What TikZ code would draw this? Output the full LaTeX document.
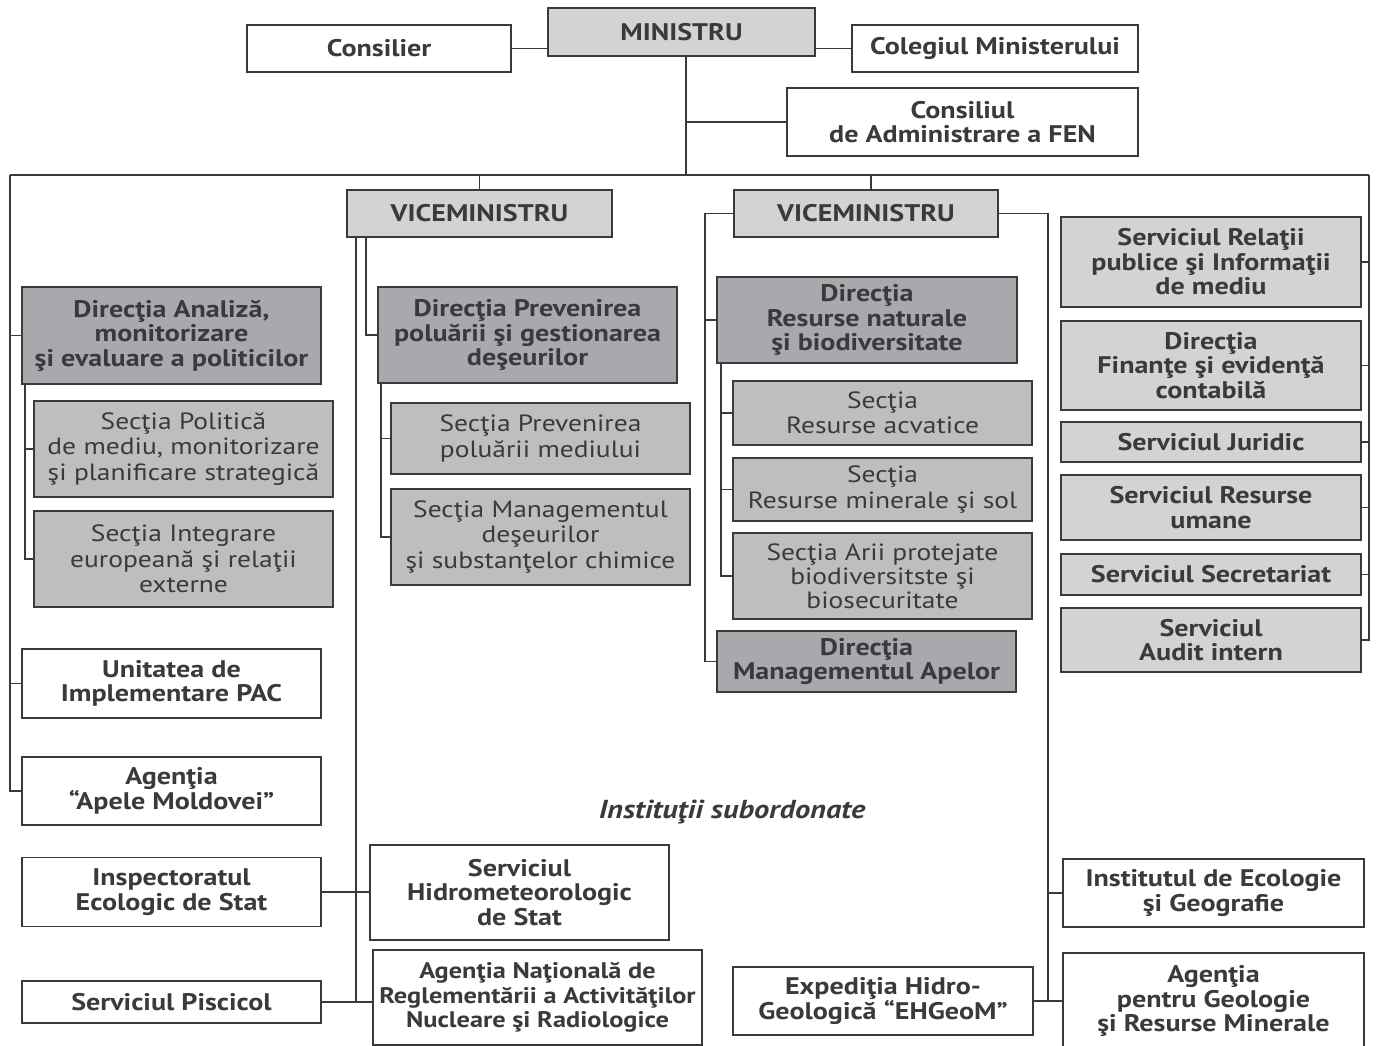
\documentclass[tikz,border=0pt]{standalone}
\usepackage{fontspec}
\setmainfont{PT Sans}[FakeStretch=1.17]
\definecolor{lgray}{HTML}{D1D3D4}
\definecolor{mgray}{HTML}{BCBEC0}
\definecolor{dgray}{HTML}{A7A9AC}
\definecolor{ink}{HTML}{3A3A3C}

\begin{document}
\begin{tikzpicture}[x=1pt,y=-1pt,color=ink,line width=1.6pt,
    box/.style={draw=ink,inner sep=0pt,align=center,font=\bfseries\fontsize{24}{24.5}\selectfont},
    wbox/.style={box,fill=white},
    lbox/.style={box,fill=lgray},
    dbox/.style={box,fill=dgray},
    sbox/.style={box,fill=mgray,font=\fontsize{23.5}{25.5}\selectfont}]
			\useasboundingbox (0,0) rectangle (1378,1046);

			\node[lbox, minimum width=267pt, minimum height=48pt] (min) at (681.5,32) {MINISTRU};
			\node[wbox, minimum width=264pt, minimum height=47pt] (cons) at (379,48.5) {Consilier};
			\node[wbox, minimum width=286pt, minimum height=47pt] (coleg) at (995,48.5) {Colegiul Ministerului};
			\node[wbox, minimum width=351pt, minimum height=68pt] (fen) at (962.5,122) {Consiliul\\de Administrare a FEN};

			\node[lbox, minimum width=265pt, minimum height=47pt] (vice1) at (479.5,213.5) {VICEMINISTRU};
			\node[lbox, minimum width=264pt, minimum height=47pt] (vice2) at (866,213.5) {VICEMINISTRU};

			% stanga
			\node[dbox, minimum width=299pt, minimum height=97pt] (dan) at (171.5,335.5) {Direcţia Analiză,\\monitorizare\\şi evaluare a politicilor};
			\node[sbox, minimum width=299pt, minimum height=96pt] (spol) at (183.5,449) {Secţia Politică\\de mediu, monitorizare\\şi planificare strategică};
			\node[sbox, minimum width=299pt, minimum height=96pt] (sint) at (183.5,559) {Secţia Integrare\\europeană şi relaţii\\externe};
			\node[wbox, minimum width=299pt, minimum height=69pt] (uip) at (171.5,683.5) {Unitatea de\\Implementare PAC};
			\node[wbox, minimum width=299pt, minimum height=68pt] (apm) at (171.5,791) {Agenţia\\“Apele Moldovei”};
			\node[wbox, minimum width=299pt, minimum height=69pt] (ies) at (171.5,892) {Inspectoratul\\Ecologic de Stat};
			\node[wbox, minimum width=299pt, minimum height=42pt] (pisc) at (171.5,1002) {Serviciul Piscicol};

			% mijloc
			\node[dbox, minimum width=299pt, minimum height=96pt] (dpp) at (527.5,335) {Direcţia Prevenirea\\poluării şi gestionarea\\deşeurilor};
			\node[sbox, minimum width=299pt, minimum height=71pt] (spm) at (540.5,438.5) {Secţia Prevenirea\\poluării mediului};
			\node[sbox, minimum width=299pt, minimum height=96pt] (smd) at (540.5,537) {Secţia Managementul\\deşeurilor\\şi substanţelor chimice};
			\node[wbox, minimum width=299pt, minimum height=95pt] (hid) at (519.5,892.5) {Serviciul\\Hidrometeorologic\\de Stat};
			\node[wbox, minimum width=329pt, minimum height=95pt, font=\bfseries\fontsize{22.5}{24.5}\selectfont] (anr) at (537.5,997.5) {Agenţia Naţională de\\Reglementării a Activităţilor\\Nucleare şi Radiologice};

			\node[dbox, minimum width=300pt, minimum height=86pt] (drn) at (867,320) {Direcţia\\Resurse naturale\\şi biodiversitate};
			\node[sbox, minimum width=299pt, minimum height=64pt] (sra) at (882.5,413) {Secţia\\Resurse acvatice};
			\node[sbox, minimum width=299pt, minimum height=63pt] (srm) at (882.5,489.5) {Secţia\\Resurse minerale şi sol};
			\node[sbox, minimum width=299pt, minimum height=86pt, font=\fontsize{23.5}{24}\selectfont] (sap) at (882.5,576) {Secţia Arii protejate\\biodiversitste şi\\biosecuritate};
			\node[dbox, minimum width=299pt, minimum height=61pt] (dma) at (866.5,661.5) {Direcţia\\Managementul Apelor};

			\node[font=\bfseries\itshape\fontsize{26}{26}\selectfont] (iis) at (732,812) {Instituţii subordonate};

			\node[wbox, minimum width=300pt, minimum height=68pt] (ehg) at (883,1001) {Expediţia Hidro-\\Geologică “EHGeoM”};
			\node[wbox, minimum width=301pt, minimum height=68pt] (ieg) at (1213.5,893) {Institutul de Ecologie\\şi Geografie};
			\node[wbox, minimum width=301pt, minimum height=96pt] (agr) at (1213.5,1001) {Agenţia\\pentru Geologie\\şi Resurse Minerale};

			% dreapta
			\node[lbox, minimum width=300pt, minimum height=90pt] (srp) at (1211,262) {Serviciul Relaţii\\publice şi Informaţii\\de mediu};
			\node[lbox, minimum width=300pt, minimum height=89pt] (dfc) at (1211,365.5) {Direcţia\\Finanţe şi evidenţă\\contabilă};
			\node[lbox, minimum width=300pt, minimum height=40pt] (sju) at (1211,442) {Serviciul Juridic};
			\node[lbox, minimum width=300pt, minimum height=65pt] (sru) at (1211,507.5) {Serviciul Resurse\\umane};
			\node[lbox, minimum width=300pt, minimum height=41pt] (sse) at (1211,574.5) {Serviciul Secretariat};
			\node[lbox, minimum width=300pt, minimum height=64pt] (sai) at (1211,640) {Serviciul\\Audit intern};

			\coordinate (bl) at (10,175);
			\coordinate (bm) at (686,175);
			\coordinate (br) at (1369,175);

			\draw (bl) -- (br);
			\draw (min.south -| bm) -- (bm);
			\draw (cons.east) -- (cons.east -| min.west);
			\draw (coleg.west) -- (coleg.west -| min.east);
			\draw (fen.west) -- (fen.west -| bm);
			\draw (vice1.north) -- (vice1.north |- bm);
			\draw ([xshift=5pt]vice2.north) -- ([xshift=5pt]vice2.north |- bm);

			\draw (bl) |- (apm.west);
			\draw (dan.west) -- (dan.west -| bl);
			\draw (uip.west) -- (uip.west -| bl);
			\draw ([xshift=4pt]dan.south west) coordinate (d1) |- (sint.west);
			\draw (spol.west) -- (spol.west -| d1);

			\draw ([xshift=10pt]vice1.south west) coordinate (v1a) -- (v1a |- pisc.east);
			\draw ([xshift=20pt]vice1.south west) |- (dpp.west);
			\draw ([xshift=4pt]dpp.south west) coordinate (d2) |- (smd.west);
			\draw (spm.west) -- (spm.west -| d2);
			\draw (ies.east) -- (ies.east -| hid.west);
			\draw (pisc.east) -- (pisc.east -| anr.west);

			\draw (vice2.west) -- ++(-28,0) coordinate (v2l) |- (dma.west);
			\draw (drn.west) -- (drn.west -| v2l);
			\draw ([xshift=5pt]drn.south west) coordinate (d3) |- (sap.west);
			\draw (sra.west) -- (sra.west -| d3);
			\draw (srm.west) -- (srm.west -| d3);
			\draw (vice2.east) -- ++(49,0) coordinate (v2r) -- (v2r |- ehg.east);
			\draw (ehg.east) -- (ehg.east -| agr.west);
			\draw (ieg.west) -- (ieg.west -| v2r);

			\draw (br) |- (sai.east);
			\foreach \n in {srp,dfc,sju,sru,sse}
			\draw (\n.east) -- (\n.east -| br);
		\end{tikzpicture}
\end{document}
